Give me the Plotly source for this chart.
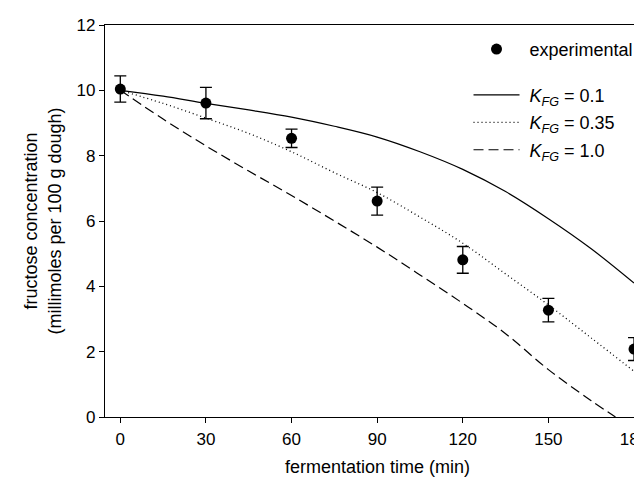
import plotly.graph_objects as go

# Experimental data
exp_time = [0, 30, 60, 90, 120, 150, 180]
exp_fructose = [10.04, 9.61, 8.53, 6.61, 4.81, 3.27, 2.08]
exp_error = [0.40, 0.48, 0.28, 0.43, 0.41, 0.36, 0.35]

# Model curves
model_time = [0, 15, 30, 45, 60, 75, 90, 105, 120, 135, 150, 165, 180]
kfg_01 = [10.0, 9.82, 9.6, 9.4, 9.18, 8.9, 8.57, 8.12, 7.58, 6.9, 6.07, 5.15, 4.1]
kfg_035 = [10.0, 9.6, 9.15, 8.68, 8.12, 7.48, 6.87, 6.12, 5.32, 4.38, 3.43, 2.42, 1.4]
dashed_time = [0, 15, 30, 45, 60, 75, 90, 105, 120, 135, 150, 165, 173.5]
kfg_10 = [10.0, 9.12, 8.3, 7.53, 6.78, 6.0, 5.2, 4.35, 3.48, 2.55, 1.45, 0.5, 0.0]

x_ticks = [0, 30, 60, 90, 120, 150, 180]
y_ticks = [0, 2, 4, 6, 8, 10, 12]

FONT = "Arial, Liberation Sans, sans-serif"
NB = "\u00a0"

fig = go.Figure()

fig.add_trace(go.Scatter(
    x=model_time, y=kfg_01, mode="lines",
    line=dict(color="black", width=1.2, shape="spline"),
    name=NB + "<i>K</i><sub><i>FG</i></sub> = 0.1", legend="legend2", legendgroup="a",
))
fig.add_trace(go.Scatter(
    x=model_time, y=kfg_035, mode="lines",
    line=dict(color="black", width=1.3, dash="1px,3px", shape="spline"),
    name=NB + "<i>K</i><sub><i>FG</i></sub> = 0.35", legend="legend2", legendgroup="b",
))
fig.add_trace(go.Scatter(
    x=dashed_time, y=kfg_10, mode="lines",
    line=dict(color="black", width=1.2, dash="10px,5px", shape="spline"),
    name=NB + "<i>K</i><sub><i>FG</i></sub> = 1.0", legend="legend2", legendgroup="c",
))
fig.add_trace(go.Scatter(
    x=exp_time, y=exp_fructose, mode="markers",
    marker=dict(color="black", size=11),
    error_y=dict(type="data", array=exp_error, color="black", thickness=1.3, width=6),
    name=NB + "experimental", legend="legend", showlegend=True,
))

axis_common = dict(
    showline=True, linecolor="black", linewidth=1.3,
    ticks="outside", ticklen=5, tickwidth=1.2, tickcolor="black",
    showgrid=False, zeroline=False, automargin=False,
    tickfont=dict(family=FONT, size=17, color="black"),
)

fig.update_layout(
    width=642, height=479,
    margin=dict(l=97, r=0, t=17, b=70),
    plot_bgcolor="white", paper_bgcolor="white",
    showlegend=True,
    font=dict(family=FONT, size=18, color="black"),
    xaxis=dict(range=[-5.36, 185.6], tickvals=x_ticks, mirror=True,
               ticklabelstandoff=1,
               title=dict(text="fermentation time (min)", font=dict(size=18), standoff=12),
               **axis_common),
    yaxis=dict(range=[0, 12], tickvals=y_ticks,
               title=dict(text="fructose concentration<br>(millimoles per 100 g dough)",
                          font=dict(size=18), standoff=10),
               **axis_common),
    legend=dict(x=0.667, y=0.985, xanchor="left", yanchor="top",
                bgcolor="rgba(0,0,0,0)", itemwidth=46,
                font=dict(family=FONT, size=18, color="black")),
    legend2=dict(x=0.667, y=0.868, xanchor="left", yanchor="top",
                 bgcolor="rgba(0,0,0,0)", itemwidth=46,
                 traceorder="grouped", tracegroupgap=1,
                 font=dict(family=FONT, size=18, color="black")),
)

fig.write_html("out.html")
